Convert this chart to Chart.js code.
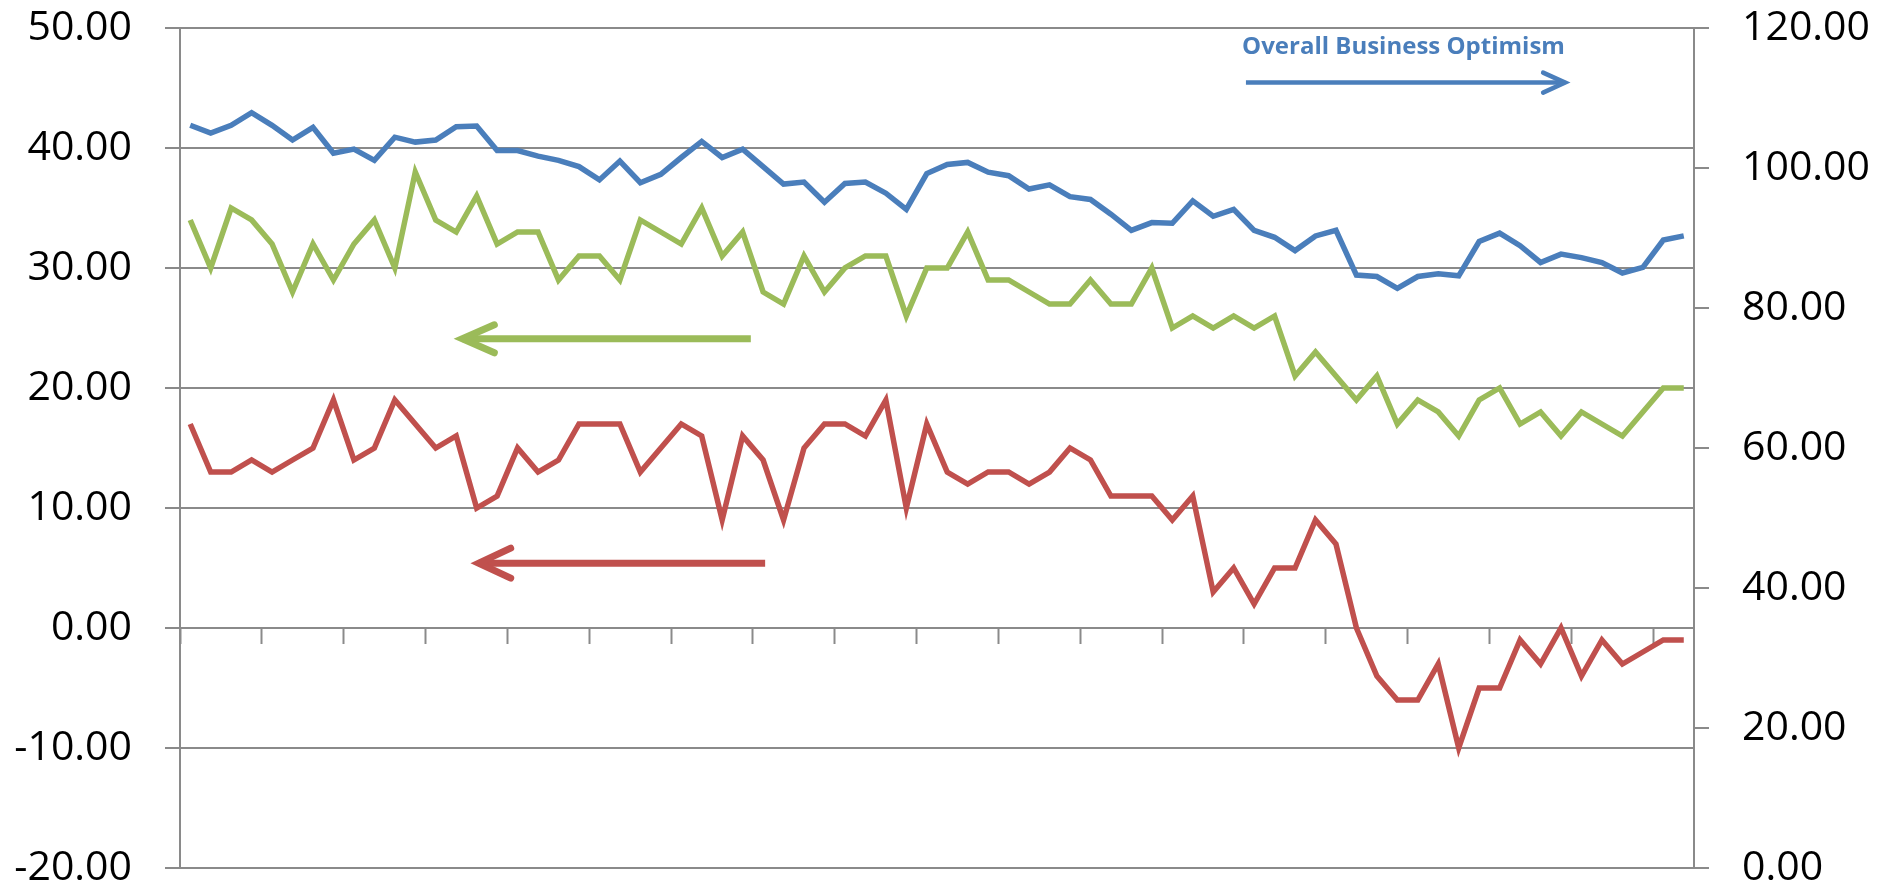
<!DOCTYPE html>
<html>
<head>
<meta charset="utf-8">
<script src="https://cdn.jsdelivr.net/npm/chart.js"></script>
<style>
  html, body { margin: 0; padding: 0; background: #fff; }
</style>
</head>
<body>
<canvas id="optChart" width="1879" height="889"></canvas>
<script>
// 74 monthly periods (no labels shown on the axis)
const periods = Array.from({ length: 74 }, (_, i) => String(i + 1));

// Overall Business Optimism (right axis)
const optimism = [
  106.1, 105.0, 106.1, 107.9, 106.1, 104.0, 105.8, 102.1, 102.7, 101.1,
  104.4, 103.7, 104.0, 105.9, 106.0, 102.5, 102.5, 101.7, 101.1, 100.2,
  98.3, 101.0, 97.9, 99.1, 101.5, 103.8, 101.5, 102.7, 100.2, 97.7,
  98.0, 95.1, 97.8, 98.0, 96.4, 94.1, 99.2, 100.5, 100.8, 99.4,
  98.9, 97.0, 97.6, 95.9, 95.5, 93.4, 91.1, 92.2, 92.1, 95.3,
  93.1, 94.1, 91.1, 90.1, 88.2, 90.3, 91.1, 84.7, 84.5, 82.8,
  84.5, 84.9, 84.6, 89.5, 90.7, 88.9, 86.5, 87.7, 87.2, 86.5,
  85.0, 85.8, 89.7, 90.3
];

// green series (left axis)
const greenSeries = [
  34, 30, 35, 34, 32, 28, 32, 29, 32, 34,
  30, 38, 34, 33, 36, 32, 33, 33, 29, 31,
  31, 29, 34, 33, 32, 35, 31, 33, 28, 27,
  31, 28, 30, 31, 31, 26, 30, 30, 33, 29,
  29, 28, 27, 27, 29, 27, 27, 30, 25, 26,
  25, 26, 25, 26, 21, 23, 21, 19, 21, 17,
  19, 18, 16, 19, 20, 17, 18, 16, 18, 17,
  16, 18, 20, 20
];

// red series (left axis)
const redSeries = [
  17, 13, 13, 14, 13, 14, 15, 19, 14, 15,
  19, 17, 15, 16, 10, 11, 15, 13, 14, 17,
  17, 17, 13, 15, 17, 16, 9, 16, 14, 9,
  15, 17, 17, 16, 19, 10, 17, 13, 12, 13,
  13, 12, 13, 15, 14, 11, 11, 11, 9, 11,
  3, 5, 2, 5, 5, 9, 7, 0, -4, -6,
  -6, -3, -10, -5, -5, -1, -3, 0, -4, -1,
  -3, -2, -1, -1
];

const BLUE = '#4a7ebb';
const RED = '#c0504d';
const GREEN = '#9bbb59';
const AXIS_GRAY = '#8a8a8a';
const FONT = '"Open Sans", "Liberation Sans", sans-serif';

// draws the caption and the three arrows pointing to each series' axis
const annotations = {
  id: 'annotations',
  afterDatasetsDraw(chart) {
    const c = chart.ctx;
    const x = chart.scales.x, yl = chart.scales.y, yr = chart.scales.y2;

    function arrow(x1, x2, y, color, width, back, spread) {
      c.save();
      c.strokeStyle = color;
      c.lineWidth = width;
      c.lineCap = 'butt';
      c.beginPath();
      c.moveTo(x1, y);
      c.lineTo(x2, y);
      c.stroke();
      const dir = x2 > x1 ? 1 : -1;
      c.lineCap = 'round';
      c.lineJoin = 'miter';
      c.beginPath();
      c.moveTo(x2 - dir * back, y - spread);
      c.lineTo(x2, y);
      c.lineTo(x2 - dir * back, y + spread);
      c.stroke();
      c.restore();
    }

    // blue one, to the right axis
    const by = yr.getPixelForValue(112.2);
    arrow(x.getPixelForValue(51.6), x.getPixelForValue(67.2), by, BLUE, 4.5, 22, 10);

    // green and red ones, to the left axis
    arrow(x.getPixelForValue(27.4), x.getPixelForValue(13.3), yl.getPixelForValue(24.1), GREEN, 7, 32, 14);
    arrow(x.getPixelForValue(28.1), x.getPixelForValue(14.1), yl.getPixelForValue(5.4), RED, 7, 32, 15);

    c.save();
    c.fillStyle = BLUE;
    c.font = 'bold 24px ' + FONT;
    c.textAlign = 'center';
    c.textBaseline = 'middle';
    c.fillText('Overall Business Optimism', x.getPixelForValue(59.3), yr.getPixelForValue(117.3));
    c.restore();
  }
};

const ctx = document.getElementById('optChart').getContext('2d');
const optChart = new Chart(ctx, {
  type: 'line',
  data: {
    labels: periods,
    datasets: [
      {
        label: 'Overall Business Optimism',
        data: optimism,
        yAxisID: 'y2',
        borderColor: BLUE,
        borderWidth: 5.5,
        pointRadius: 0,
        tension: 0,
        fill: false,
      },
      {
        label: 'Green series',
        data: greenSeries,
        yAxisID: 'y',
        borderColor: GREEN,
        borderWidth: 5.5,
        pointRadius: 0,
        tension: 0,
        fill: false,
      },
      {
        label: 'Red series',
        data: redSeries,
        yAxisID: 'y',
        borderColor: RED,
        borderWidth: 5.5,
        pointRadius: 0,
        tension: 0,
        fill: false,
      },
    ],
  },
  options: {
    responsive: false,
    animation: false,
    layout: { padding: { top: 28, bottom: 21, left: 0, right: 0 } },
    plugins: {
      legend: { display: false },
      tooltip: { enabled: false },
    },
    scales: {
      x: {
        type: 'category',
        position: { y: 0 }, // category axis crosses at 0 on the left axis
        offset: true,
        grid: {
          drawOnChartArea: false,
          drawTicks: true,
          offset: true,
          tickLength: 15,
          tickWidth: 2,
          tickColor: (c) => (c.index % 4 === 0 ? AXIS_GRAY : 'rgba(0,0,0,0)'),
        },
        border: { display: true, color: AXIS_GRAY, width: 2 },
        ticks: { display: false, autoSkip: false },
        afterFit(scale) { scale.height = 0; scale.paddingLeft = 0; scale.paddingRight = 0; },
      },
      y: {
        position: 'left',
        min: -20,
        max: 50,
        grid: { color: AXIS_GRAY, lineWidth: 2, tickLength: 15 },
        border: { color: AXIS_GRAY, width: 2 },
        ticks: {
          stepSize: 10,
          padding: 33,
          color: '#000',
          font: { family: FONT, size: 41, lineHeight: 1 },
          callback: (v) => v.toFixed(2),
        },
        afterFit(scale) { scale.width = 180; scale.paddingTop = 0; scale.paddingBottom = 0; },
      },
      y2: {
        position: 'right',
        min: 0,
        max: 120,
        grid: { drawOnChartArea: false, color: AXIS_GRAY, lineWidth: 2, tickLength: 15 },
        border: { color: AXIS_GRAY, width: 2 },
        ticks: {
          stepSize: 20,
          padding: 33,
          color: '#000',
          font: { family: FONT, size: 41, lineHeight: 1 },
          callback: (v) => v.toFixed(2),
        },
        afterFit(scale) { scale.width = 185; scale.paddingTop = 0; scale.paddingBottom = 0; },
      },
    },
  },
  plugins: [annotations],
});
</script>
</body>
</html>
